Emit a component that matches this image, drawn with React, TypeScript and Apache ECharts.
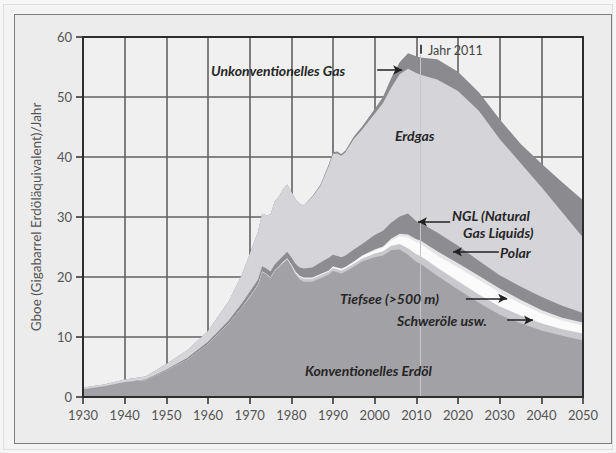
import React, { useEffect, useRef } from "react";
import * as echarts from "echarts";

const YEARS = [1930, 1935, 1940, 1945, 1950, 1955, 1960, 1965, 1968, 1970, 1972, 1973, 1974, 1975, 1976, 1977, 1978, 1979, 1980, 1981, 1982, 1983, 1985, 1987, 1989, 1990, 1991, 1992, 1993, 1995, 1997, 2000, 2002, 2004, 2006, 2008, 2010, 2011, 2015, 2020, 2025, 2030, 2035, 2040, 2045, 2050];

// Upper boundary of each layer (cumulative, Gboe/Jahr)
const KONV_OEL_TOP = [1.3, 1.8, 2.5, 2.8, 4.4, 6.2, 8.8, 12.3, 14.8, 16.6, 18.6, 20.8, 20.4, 19.8, 21.0, 21.6, 22.3, 22.9, 21.8, 20.4, 19.6, 19.2, 19.2, 19.8, 20.4, 21.0, 20.8, 20.6, 20.9, 21.7, 22.6, 23.3, 23.6, 24.5, 24.6, 23.7, 22.5, 22.2, 20.2, 17.9, 15.7, 13.7, 12.3, 11.1, 10.2, 9.4];
const SCHWEROELE_TOP = [1.3, 1.8, 2.5, 2.8, 4.4, 6.2, 8.8, 12.3, 14.8, 16.7, 18.7, 20.9, 20.5, 19.9, 21.1, 21.7, 22.4, 23.0, 22.0, 20.7, 20.0, 19.7, 19.7, 20.3, 20.9, 21.5, 21.3, 21.1, 21.4, 22.2, 23.1, 23.9, 24.3, 25.2, 25.5, 24.8, 23.8, 23.5, 21.6, 19.3, 17.1, 15.1, 13.6, 12.3, 11.3, 10.6];
const TIEFSEE_TOP = [1.3, 1.8, 2.5, 2.8, 4.4, 6.2, 8.8, 12.3, 14.8, 16.7, 18.7, 20.9, 20.5, 19.9, 21.1, 21.7, 22.5, 23.1, 22.1, 20.8, 20.1, 19.8, 19.8, 20.4, 21.0, 21.7, 21.5, 21.3, 21.6, 22.5, 23.5, 24.4, 24.9, 26.1, 26.8, 26.6, 25.8, 25.5, 23.6, 21.6, 19.5, 17.4, 15.6, 13.9, 12.7, 11.9];
const POLAR_TOP = [1.3, 1.8, 2.5, 2.8, 4.4, 6.2, 8.8, 12.3, 14.8, 16.7, 18.7, 20.9, 20.5, 19.9, 21.1, 21.7, 22.5, 23.1, 22.1, 20.9, 20.2, 19.9, 19.9, 20.5, 21.1, 21.8, 21.6, 21.4, 21.7, 22.6, 23.6, 24.6, 25.1, 26.4, 27.2, 27.1, 26.3, 26.1, 24.3, 22.3, 20.2, 18.1, 16.2, 14.5, 13.2, 12.4];
const NGL_TOP = [1.3, 1.8, 2.5, 2.9, 4.6, 6.5, 9.2, 12.8, 15.5, 17.5, 19.6, 21.8, 21.4, 20.9, 22.1, 22.8, 23.5, 24.2, 23.3, 22.2, 21.6, 21.4, 21.6, 22.4, 23.2, 23.7, 23.5, 23.3, 23.6, 24.6, 25.5, 27.0, 27.7, 29.1, 30.1, 30.6, 29.3, 29.0, 27.4, 25.2, 22.7, 20.3, 18.4, 16.7, 15.2, 14.0];
const ERDGAS_TOP = [1.6, 2.1, 2.9, 3.4, 5.5, 7.8, 11.0, 16.0, 20.2, 23.8, 27.6, 30.6, 30.3, 30.4, 32.6, 33.4, 34.6, 35.4, 34.2, 33.0, 32.2, 31.9, 33.3, 35.2, 38.5, 40.5, 40.6, 40.2, 40.8, 43.0, 44.6, 47.2, 49.0, 51.6, 53.8, 54.7, 54.0, 53.7, 52.9, 51.0, 47.7, 43.0, 39.0, 35.0, 30.8, 26.6];
const UNKONV_GAS_TOP = [1.6, 2.1, 2.9, 3.4, 5.5, 7.8, 11.0, 16.0, 20.2, 23.8, 27.6, 30.6, 30.3, 30.4, 32.6, 33.4, 34.6, 35.4, 34.2, 33.0, 32.2, 31.9, 33.4, 35.4, 38.8, 40.8, 40.9, 40.5, 41.1, 43.4, 45.1, 48.0, 50.0, 53.2, 55.8, 57.3, 56.8, 56.6, 56.3, 54.2, 50.8, 46.3, 42.2, 38.9, 35.8, 32.8];

const MARK_YEAR = 2011;
const Y_NAME = "Gboe (Gigabarrel Erdöläquivalent)/Jahr";

export default function App() {
  const ref = useRef<HTMLDivElement>(null);

  useEffect(() => {
    const chart = echarts.init(ref.current!, null, { renderer: "svg" });
    const FONT = "Lato, 'Open Sans', sans-serif";
    const pairs = (a: number[]) => YEARS.map((y, i) => [y, a[i]]);

    const layers = [
      { name: "Unkonventionelles Gas", data: UNKONV_GAS_TOP, color: "#8b8a8e" },
      { name: "Erdgas", data: ERDGAS_TOP, color: "#d5d4d8" },
      { name: "NGL (Natural Gas Liquids)", data: NGL_TOP, color: "#8d8c90" },
      { name: "Polar", data: POLAR_TOP, color: "#e6e6e8" },
      { name: "Tiefsee (>500 m)", data: TIEFSEE_TOP, color: "#fbfbfb" },
      { name: "Schweröle usw.", data: SCHWEROELE_TOP, color: "#c9c8cc" },
      { name: "Konventionelles Erdöl", data: KONV_OEL_TOP, color: "#a2a1a5" },
    ];

    const series: any[] = layers.map((l) => ({
      name: l.name,
      type: "line",
      data: pairs(l.data),
      xAxisIndex: 0,
      yAxisIndex: 0,
      symbol: "none",
      showSymbol: false,
      lineStyle: { width: 0 },
      areaStyle: { color: l.color, opacity: 1 },
      silent: true,
      z: 2,
    }));

    const arrow = (x1: number, y1: number, x2: number, y2: number) => [
      { coord: [x1, y1], symbol: "none" },
      { coord: [x2, y2], symbol: "arrow", symbolSize: [7, 9] },
    ];

    series.push({
      name: "annotations",
      type: "line",
      data: [],
      xAxisIndex: 0,
      yAxisIndex: 0,
      z: 5,
      silent: true,
      markLine: {
        silent: true,
        animation: false,
        symbol: ["none", "none"],
        label: { show: false },
        emphasis: { disabled: true },
        lineStyle: { type: "solid", color: "#222", width: 1.5 },
        data: [
          [
            { coord: [MARK_YEAR, 0], lineStyle: { color: "#c6c6c6", width: 1, type: "solid" } },
            { coord: [MARK_YEAR, 57.0] },
          ],
          [
            { coord: [MARK_YEAR, 57.2], lineStyle: { color: "#222", width: 1.6, type: "solid" } },
            { coord: [MARK_YEAR, 58.7] },
          ],
          arrow(2000.6, 54.5, 2006.6, 54.5),
          arrow(2018.1, 29.2, 2010.4, 29.2),
          arrow(2029.8, 24.2, 2018.8, 24.2),
          arrow(2021.9, 16.45, 2031.8, 16.45),
          arrow(2031.8, 12.8, 2038.0, 12.8),
        ],
      },
    });

    const label = (text: string, x: number, y: number, extra: any = {}) => ({
      type: "text",
      x,
      y,
      z: 20,
      silent: true,
      style: {
        text,
        fill: "#262626",
        fontFamily: FONT,
        fontSize: 14,
        fontWeight: "bold",
        fontStyle: "italic",
        verticalAlign: "middle",
        align: "left",
        ...extra,
      },
    });

    const axisBase = { type: "value", min: 1930, max: 2050, interval: 10 };
    const yBase = { type: "value", min: 0, max: 60, interval: 10 };
    const dark = "#2d2d2d";
    const gridLine = { show: true, lineStyle: { color: "#626262", width: 1.6 } };

    chart.setOption({
      animation: false,
      backgroundColor: "transparent",
      grid: {
        left: 83,
        right: 33,
        top: 37,
        bottom: 56,
        show: false,
      },
      xAxis: [
        {
          ...axisBase,
          position: "bottom",
          axisLine: { show: false, onZero: false },
          axisTick: { show: false },
          splitLine: gridLine,
          axisLabel: { color: "#555", fontSize: 13, fontFamily: FONT, margin: 11, formatter: (v: number) => String(v) },
          z: 0,
        },
        {
          ...axisBase,
          position: "bottom",
          axisLine: { show: true, onZero: false, lineStyle: { color: dark, width: 2 } },
          axisTick: { show: true, length: 7, lineStyle: { color: dark, width: 1.5 } },
          axisLabel: { show: false },
          splitLine: { show: false },
          z: 10,
        },
        {
          ...axisBase,
          position: "top",
          axisLine: { show: true, onZero: false, lineStyle: { color: dark, width: 2 } },
          axisTick: { show: false },
          axisLabel: { show: false },
          splitLine: { show: false },
          z: 10,
        },
      ],
      yAxis: [
        {
          ...yBase,
          position: "left",
          name: Y_NAME,
          nameLocation: "middle",
          nameGap: 40,
          nameTextStyle: { color: "#555", fontSize: 13.5, fontFamily: FONT },
          axisLine: { show: false, onZero: false },
          axisTick: { show: false },
          splitLine: gridLine,
          axisLabel: { color: "#555", fontSize: 13, fontFamily: FONT, margin: 11 },
          z: 0,
        },
        {
          ...yBase,
          position: "left",
          axisLine: { show: true, onZero: false, lineStyle: { color: dark, width: 2 } },
          axisTick: { show: true, length: 7, lineStyle: { color: dark, width: 1.5 } },
          axisLabel: { show: false },
          splitLine: { show: false },
          z: 10,
        },
        {
          ...yBase,
          position: "right",
          axisLine: { show: true, onZero: false, lineStyle: { color: dark, width: 2 } },
          axisTick: { show: false },
          axisLabel: { show: false },
          splitLine: { show: false },
          z: 10,
        },
      ],
      graphic: [
        label("Unkonventionelles Gas", 211, 70),
        label("Erdgas", 395, 135),
        label("NGL (Natural", 452, 215),
        label("Gas Liquids)", 463, 232),
        label("Polar", 500, 252),
        label("Tiefsee (>500 m)", 340, 298),
        label("Schweröle usw.", 397, 320),
        label("Konventionelles Erdöl", 305, 370),
        label("Jahr 2011", 428, 50, { fontWeight: "normal", fontStyle: "normal", fontSize: 12.5, fill: "#444" }),
      ],
      series,
    });

    return () => chart.dispose();
  }, []);

  return (
    <div style={{ position: "fixed", left: 0, top: 0, width: 616, height: 453, background: "#f6f6f6" }}>
      <div
        style={{
          position: "absolute",
          left: 3,
          top: 4,
          width: 608,
          height: 444,
          border: "1px solid #dedede",
          background: "#f4f4f4",
        }}
      />
      <div
        style={{
          position: "absolute",
          left: 14,
          top: 14,
          width: 596,
          height: 428,
          border: "1.5px solid #7d7d7d",
          background: "#ececec",
        }}
      />
      <div
        style={{
          position: "absolute",
          left: 83,
          top: 37,
          width: 500,
          height: 360,
          background: "#f0f0f0",
        }}
      />
      <div ref={ref} style={{ position: "absolute", left: 0, top: 0, width: 616, height: 453 }} />
    </div>
  );
}
